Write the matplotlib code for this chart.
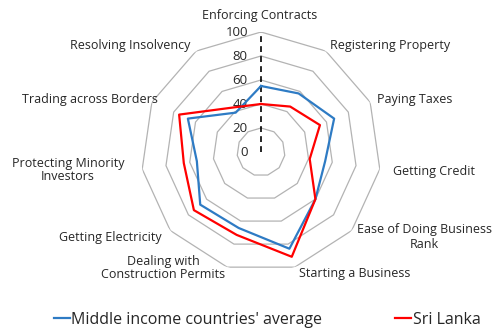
import numpy as np
import matplotlib
matplotlib.use("Agg")
import matplotlib.pyplot as plt
from matplotlib.lines import Line2D

plt.rcParams['font.family'] = ['Open Sans', 'DejaVu Sans']

categories = ["Enforcing Contracts", "Registering Property", "Paying Taxes",
              "Getting Credit", "Ease of Doing Business\nRank", "Starting a Business",
              "Dealing with\nConstruction Permits", "Getting Electricity",
              "Protecting Minority\nInvestors", "Trading across Borders",
              "Resolving Insolvency"]
middle_income = [55, 58, 67, 54, 60, 84, 66, 67, 54, 67, 39]
sri_lanka = [40, 45, 54, 41, 60, 91, 72, 74, 65, 75, 44]
r_ticks = [0, 20, 40, 60, 80, 100]
series_names = ["Middle income countries' average", "Sri Lanka"]

W, H = 494, 330
fig = plt.figure(figsize=(W / 100, H / 100), dpi=100)
cx, cy, R = 261, 152, 120
ax = fig.add_axes([(cx - R) / W, (H - cy - R) / H, 2 * R / W, 2 * R / H], projection='polar')
ax.set_theta_zero_location('N')
ax.set_theta_direction(-1)
ax.set_ylim(0, 100)
ax.axis('off')

n = len(categories)
theta = np.linspace(0, 2 * np.pi, n, endpoint=False)
theta_c = np.append(theta, theta[0])

# polygon grid
for rv in r_ticks[1:]:
    ax.plot(theta_c, [rv] * (n + 1), color='#b3b3b3', lw=0.9, zorder=1)

# dashed axis
ax.plot([0, 0], [0, 100], color='black', lw=1.2, ls=(0, (3.5, 2.5)), zorder=2)

txt_color = '#262626'
# tick labels
for rv in r_ticks:
    ax.annotate(str(rv), xy=(0, rv), xytext=(-9.5, 0), textcoords='offset points',
                ha='right', va='center', fontsize=9.5, color=txt_color)

c_blue = '#2E7BC4'
c_red = '#FF0000'
ax.plot(theta_c, middle_income + middle_income[:1], color=c_blue, lw=1.6, zorder=3)
ax.plot(theta_c, sri_lanka + sri_lanka[:1], color=c_red, lw=1.6, zorder=4)

# category labels (placed in figure pixel coordinates)
label_pos = [(260, 16), (390, 46), (415, 100), (434, 171), (424, 237), (355, 274),
             (163, 268), (110, 237), (68, 170), (90, 100), (130, 46)]
for lab, (x, y) in zip(categories, label_pos):
    fig.text(x / W, 1 - y / H, lab, ha='center', va='center', fontsize=9,
             color=txt_color, linespacing=1.1)

handles = [Line2D([], [], color=c_blue, lw=1.6), Line2D([], [], color=c_red, lw=1.6)]
fig.legend(handles, series_names, loc='center', bbox_to_anchor=(267 / W, 1 - 320 / H),
           ncol=2, frameon=False, fontsize=11.5, handlelength=1.0, handletextpad=0.1,
           columnspacing=4.55, borderpad=0, borderaxespad=0, labelcolor=txt_color)

fig.savefig('out.png', dpi=100)
